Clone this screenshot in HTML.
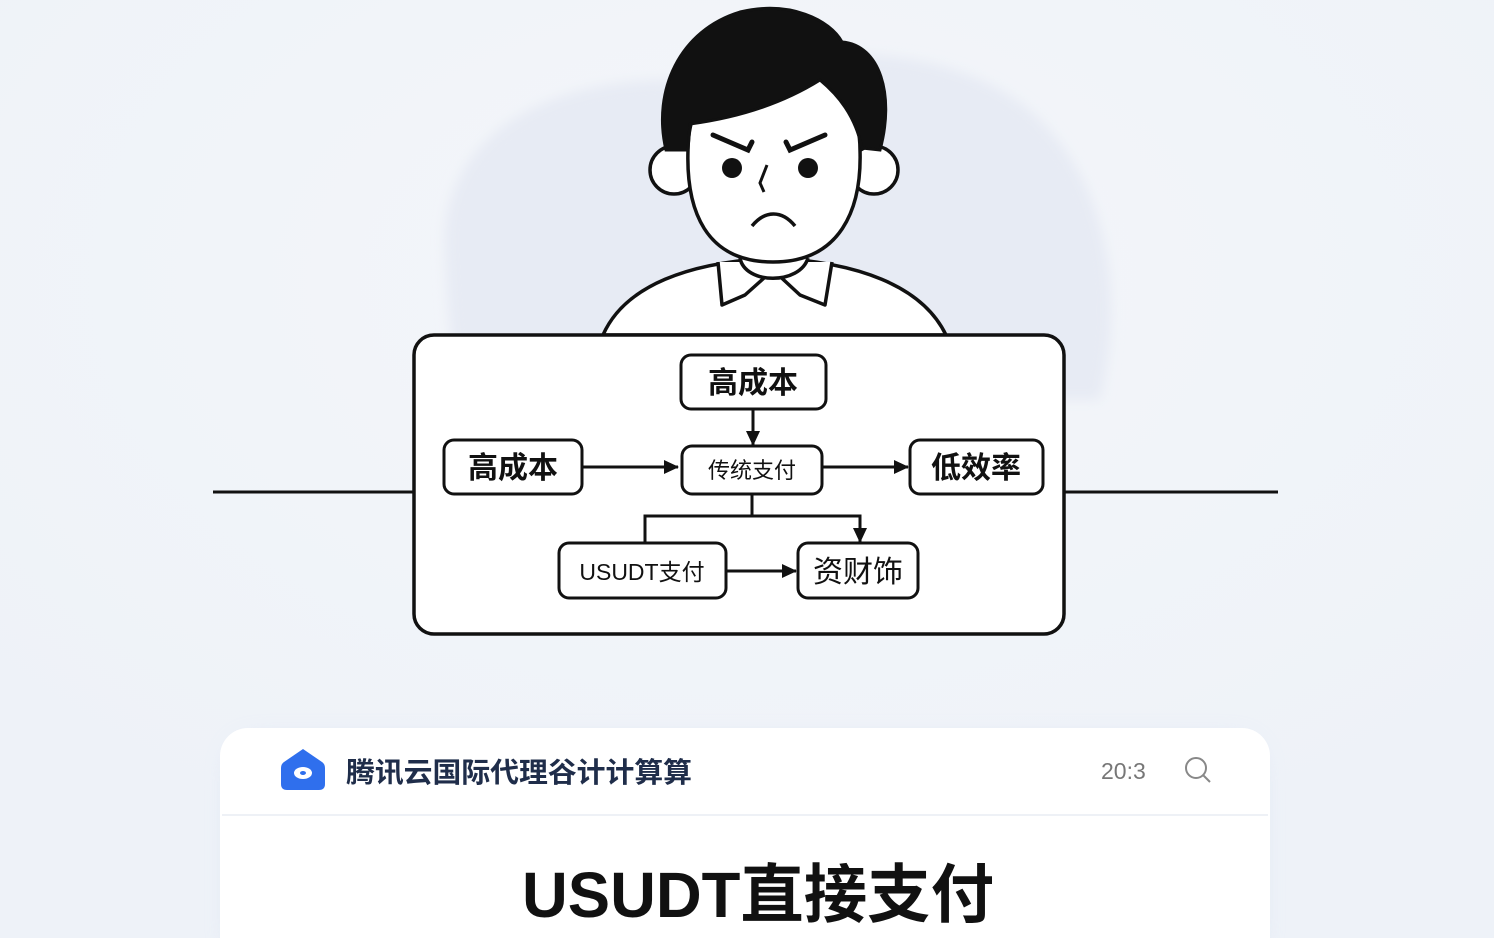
<!DOCTYPE html>
<html><head><meta charset="utf-8"><style>
html,body{margin:0;padding:0;width:1494px;height:938px;overflow:hidden;background:#f3f6fa}
svg{display:block}
</style></head><body>
<svg width="1494" height="938" viewBox="0 0 1494 938" xmlns="http://www.w3.org/2000/svg" font-family="'Liberation Sans','Noto Sans CJK SC',sans-serif">
<defs>
<radialGradient id="bg" cx="50%" cy="30%" r="70%"><stop offset="0" stop-color="#f4f6fa"/><stop offset="1" stop-color="#eef2f8"/></radialGradient>
<filter id="sh" x="-10%" y="-30%" width="120%" height="160%"><feGaussianBlur stdDeviation="12"/></filter>
<filter id="bl"><feGaussianBlur stdDeviation="6"/></filter>
<marker id="ar" markerWidth="16" markerHeight="16" refX="14" refY="7" orient="auto" markerUnits="userSpaceOnUse"><path d="M0,0 L15,7 L0,14z" fill="#111"/></marker>
</defs>
<rect width="1494" height="938" fill="url(#bg)"/>
<path d="M445,250 C440,140 540,75 690,80 C800,40 960,40 1040,120 C1110,190 1125,300 1100,400 L460,400 C450,340 447,300 445,250z" fill="#e7ebf4" filter="url(#bl)"/>
<line x1="213" y1="492" x2="414" y2="492" stroke="#111" stroke-width="3"/>
<line x1="1064" y1="492" x2="1278" y2="492" stroke="#111" stroke-width="3"/>
<path d="M603,335 C625,285 690,262 773,258 C856,262 922,285 946,335z" fill="#fff" stroke="#111" stroke-width="3.5"/>
<path d="M718,262 L722,305 L745,295 L773,270 L800,295 L825,305 L832,262" fill="#fff" stroke="#111" stroke-width="3.5" stroke-linejoin="round"/>
<path d="M740,258 C745,285 800,285 808,258" fill="#fff" stroke="#111" stroke-width="3.5"/>
<circle cx="674" cy="170" r="24" fill="#fff" stroke="#111" stroke-width="3.5"/>
<circle cx="874" cy="170" r="24" fill="#fff" stroke="#111" stroke-width="3.5"/>
<path d="M688,150 C686,210 705,262 773,262 C840,262 862,210 860,150 C860,30 688,30 688,150z" fill="#fff" stroke="#111" stroke-width="3.5"/>
<path d="M666,150 C652,90 680,30 740,12 C790,0 830,20 842,42 C880,45 895,95 880,150 L862,148 C855,115 838,95 820,80 C780,105 735,118 690,124 L688,150z" fill="#111" stroke="#111" stroke-width="3"/>
<path d="M713,135 L748,150 L752,142" fill="none" stroke="#111" stroke-width="5" stroke-linecap="round"/>
<path d="M825,135 L790,150 L786,142" fill="none" stroke="#111" stroke-width="5" stroke-linecap="round"/>
<circle cx="732" cy="168" r="10" fill="#111"/><circle cx="808" cy="168" r="10" fill="#111"/>
<path d="M767,165 L760,183 L764,192" fill="none" stroke="#111" stroke-width="3"/>
<path d="M752,226 C765,210 782,210 795,226" fill="none" stroke="#111" stroke-width="3.5"/>
<rect x="414" y="335" width="650" height="299" rx="20" fill="#fff" stroke="#111" stroke-width="3.5"/>
<g fill="#fff" stroke="#111" stroke-width="3">
<rect x="681" y="355" width="145" height="54" rx="10"/>
<rect x="444" y="440" width="138" height="54" rx="10"/>
<rect x="682" y="446" width="140" height="48" rx="10"/>
<rect x="910" y="440" width="133" height="54" rx="10"/>
<rect x="559" y="543" width="167" height="55" rx="10"/>
<rect x="798" y="543" width="120" height="55" rx="10"/>
</g>
<g stroke="#111" stroke-width="3" fill="none">
<line x1="753" y1="409" x2="753" y2="445" marker-end="url(#ar)"/>
<line x1="582" y1="467" x2="678" y2="467" marker-end="url(#ar)"/>
<line x1="822" y1="467" x2="908" y2="467" marker-end="url(#ar)"/>
<line x1="726" y1="571" x2="796" y2="571" marker-end="url(#ar)"/>
<path d="M752,494 V516 M645,543 V516 H860 V542" marker-end="url(#ar)"/>
</g>
<g fill="#111" text-anchor="middle" font-weight="bold" font-size="30">
<text x="753" y="393">高成本</text>
<text x="513" y="478">高成本</text>
<text x="976" y="478">低效率</text>
<text x="858" y="582" font-weight="normal">资财饰</text>
</g>
<text x="752" y="478" text-anchor="middle" font-size="22" fill="#111">传统支付</text>
<text x="642" y="580" text-anchor="middle" font-size="23" fill="#111">USUDT支付</text>
<rect x="230" y="740" width="1030" height="220" rx="28" fill="#c9d3ea" opacity="0.6" filter="url(#sh)"/>
<rect x="220" y="728" width="1050" height="240" rx="28" fill="#fff"/>
<line x1="222" y1="815" x2="1268" y2="815" stroke="#eef1f6" stroke-width="2"/>
<path d="M303,749 L322,762 Q325,764 325,768 L325,784 Q325,790 319,790 L287,790 Q281,790 281,784 L281,768 Q281,764 284,762z" fill="#2f6fed"/>
<ellipse cx="303" cy="773" rx="9" ry="6" fill="#fff"/><ellipse cx="303" cy="773" rx="3" ry="2" fill="#2f6fed"/>
<text x="346" y="782" font-size="28" fill="#1f2d4a" font-weight="bold" textLength="346" lengthAdjust="spacingAndGlyphs">腾讯云国际代理谷计计算算</text>
<text x="1101" y="779" font-size="23" fill="#777">20:3</text>
<circle cx="1196" cy="768" r="10" fill="none" stroke="#888" stroke-width="2"/>
<line x1="1203" y1="775" x2="1210" y2="782" stroke="#888" stroke-width="2"/>
<text x="758" y="917" text-anchor="middle" font-size="64" font-weight="bold" fill="#111" textLength="472" lengthAdjust="spacingAndGlyphs">USUDT直接支付</text>
</svg>
</body></html>
